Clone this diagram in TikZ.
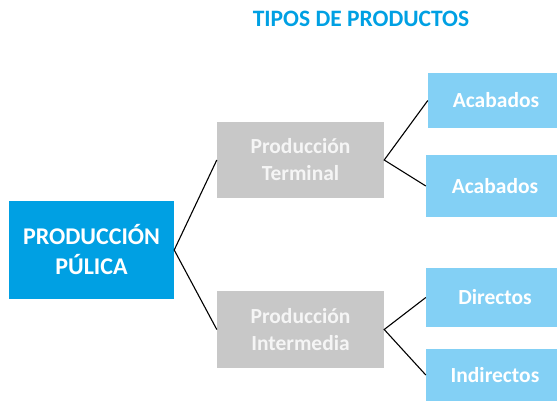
\documentclass[tikz,border=0pt]{standalone}
\usepackage{fontspec}
\setmainfont{Carlito}
\definecolor{mainblue}{HTML}{00A0E3}
\definecolor{lightblue}{HTML}{83D0F5}
\definecolor{boxgray}{HTML}{C8C8C8}
\begin{document}
\begin{tikzpicture}[x=1pt,y=-1pt,
  box/.style={rectangle, inner sep=0pt, align=center, font=\bfseries, text=white},
  mainbox/.style={box, fill=mainblue, font=\bfseries\fontsize{24}{30}\selectfont},
  graybox/.style={box, fill=boxgray, text=white!96!black, font=\bfseries\fontsize{21.5}{27}\selectfont},
  leafbox/.style={box, fill=lightblue, font=\bfseries\fontsize{21.5}{26}\selectfont},
  link/.style={draw=black, line width=1.1pt}]
\useasboundingbox (0,0) rectangle (557,401);
\node[font=\bfseries\fontsize{23.5}{28}\selectfont, text=mainblue] (title) at (361,19) {TIPOS DE PRODUCTOS};
\node[mainbox, minimum width=165pt, minimum height=98pt] (main) at (91.5,250) {PRODUCCIÓN\\PÚLICA};
\node[graybox, minimum width=167pt, minimum height=76pt] (term) at (300.5,160) {Producción\\Terminal};
\node[graybox, minimum width=167pt, minimum height=77pt] (inter) at (300.5,329.5) {Producción\\Intermedia};
\node[leafbox, minimum width=136pt, minimum height=55pt] (a1) at (496,100.5) {Acabados};
\node[leafbox, minimum width=138pt, minimum height=62pt] (a2) at (495,186) {Acabados};
\node[leafbox, minimum width=138pt, minimum height=59pt] (d1) at (495,297.5) {Directos};
\node[leafbox, minimum width=138pt, minimum height=52pt] (d2) at (495,375) {Indirectos};
\draw[link] (term.west) -- (main.east) -- (inter.west);
\draw[link] (a1.west) -- (term.east) -- (a2.west);
\draw[link] (d1.west) -- (inter.east) -- (d2.west);
\end{tikzpicture}
\end{document}
